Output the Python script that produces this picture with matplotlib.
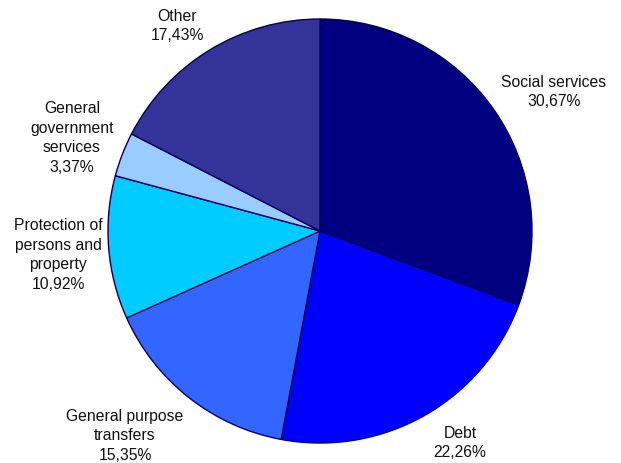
import matplotlib
matplotlib.use("Agg")
import matplotlib.pyplot as plt

labels = ["Social services", "Debt", "General purpose\ntransfers",
          "Protection of\npersons and\nproperty", "General\ngovernment\nservices", "Other"]
values = [30.67, 22.26, 15.35, 10.92, 3.37, 17.43]
colors = ["#000080", "#0000FF", "#3366FF", "#00CCFF", "#99CCFF", "#333399"]

# label block centres in pixels (layout)
label_px = [(554, 92), (460, 443), (125, 436), (58, 255), (72, 138), (177, 26)]

W, H = 621, 464
cx, cy, R = 320, 232, 212

fig = plt.figure(figsize=(W / 100, H / 100), dpi=100)
ax = fig.add_axes([0, 0, 1, 1])
ax.pie(values, colors=colors, startangle=90, counterclock=False,
       wedgeprops=dict(edgecolor="#000060", linewidth=1.0))
ax.set_xlim(-cx / R, (W - cx) / R)
ax.set_ylim((cy - H) / R, cy / R)
ax.set_aspect("auto")
ax.axis("off")

for lab, v, (px, py) in zip(labels, values, label_px):
    txt = f"{lab}\n{v:.2f}%".replace(".", ",")
    ax.text((px - cx) / R, (cy - py) / R, txt, ha="center", va="center",
            multialignment="center", fontsize=11.3, family="Liberation Sans",
            color="#111111", linespacing=1.38)

fig.savefig("out.png", dpi=100)
